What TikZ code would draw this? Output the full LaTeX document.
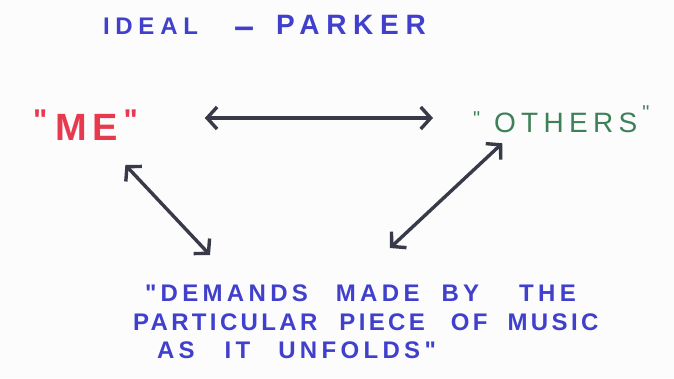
\documentclass[tikz,border=0pt]{standalone}
\usepackage{fontspec}
\setmainfont{Liberation Sans}[Ligatures=TeXOff]
\usetikzlibrary{arrows.meta}
\definecolor{inkblue}{RGB}{64,64,205}
\definecolor{inkred}{RGB}{232,58,78}
\definecolor{inkgreen}{RGB}{62,128,88}
\definecolor{inkgray}{RGB}{56,58,72}
\definecolor{paper}{RGB}{252,252,253}
\newcommand{\hquote}[2]{\raisebox{#1}{\fontsize{#2}{#2}\selectfont "}}
\newcommand{\wg}[1]{\hspace{#1}}
\tikzset{
  txt/.style={inner sep=0pt, outer sep=0pt, anchor=base west},
  arr/.style={draw=inkgray, line width=3.4pt, line cap=round, line join=round,
    {Straight Barb[length=10pt,width=22pt,line width=3.4pt]}-{Straight Barb[length=10pt,width=22pt,line width=3.4pt]}}
}
\begin{document}
\begin{tikzpicture}[x=1pt,y=-1pt]
\useasboundingbox (0,0) rectangle (674,378);
\fill[paper] (0,0) rectangle (674,378);

\node[txt, text=inkblue, font=\bfseries] (title) at (103,34)
  {{\fontsize{24}{24}\selectfont\addfontfeature{LetterSpace=24}IDEAL}\wg{36pt}\raisebox{-4pt}{\fontsize{36}{36}\selectfont –}\wg{22pt}{\fontsize{28}{28}\selectfont\addfontfeature{LetterSpace=24}PARKER}};

\node[txt, text=inkred, font=\bfseries\fontsize{38}{38}\selectfont] (me) at (33,140)
  {\hquote{10pt}{30}\wg{8pt}{\addfontfeature{LetterSpace=14}ME}\wg{6pt}\hquote{10pt}{30}};

\node[txt, text=inkgreen, font=\fontsize{28}{28}\selectfont] (others) at (473,132)
  {\hquote{7pt}{20}\wg{14pt}{\addfontfeature{LetterSpace=19}OTHERS}\wg{5pt}\hquote{13pt}{20}};

\node[inner sep=0pt, outer sep=0pt, anchor=north west, align=left, text=inkblue,
      font=\bfseries\fontsize{24}{28.5}\selectfont\addfontfeature{LetterSpace=18}] (demands) at (125,285)
  {\hspace*{20pt}"DEMANDS\wg{28pt}MADE\wg{22pt}BY\wg{40pt}THE\\
   \hspace*{8pt}{\addfontfeature{LetterSpace=14}PARTICULAR\wg{22pt}PIECE\wg{26pt}OF\wg{20pt}MUSIC}\\
   \hspace*{32pt}AS\wg{30pt}IT\wg{28pt}UNFOLDS"};

\draw[arr] ([xshift=67pt]me.east |- 0,118) -- ([xshift=-40pt]others.west |- 0,118);
\draw[arr] ([shift={(40,25)}]me.south) -- ([shift={(85,-30)}]demands.north west);
\draw[arr] ([shift={(-59,11)}]others.south) -- ([shift={(265,-37)}]demands.north west);
\end{tikzpicture}
\end{document}
